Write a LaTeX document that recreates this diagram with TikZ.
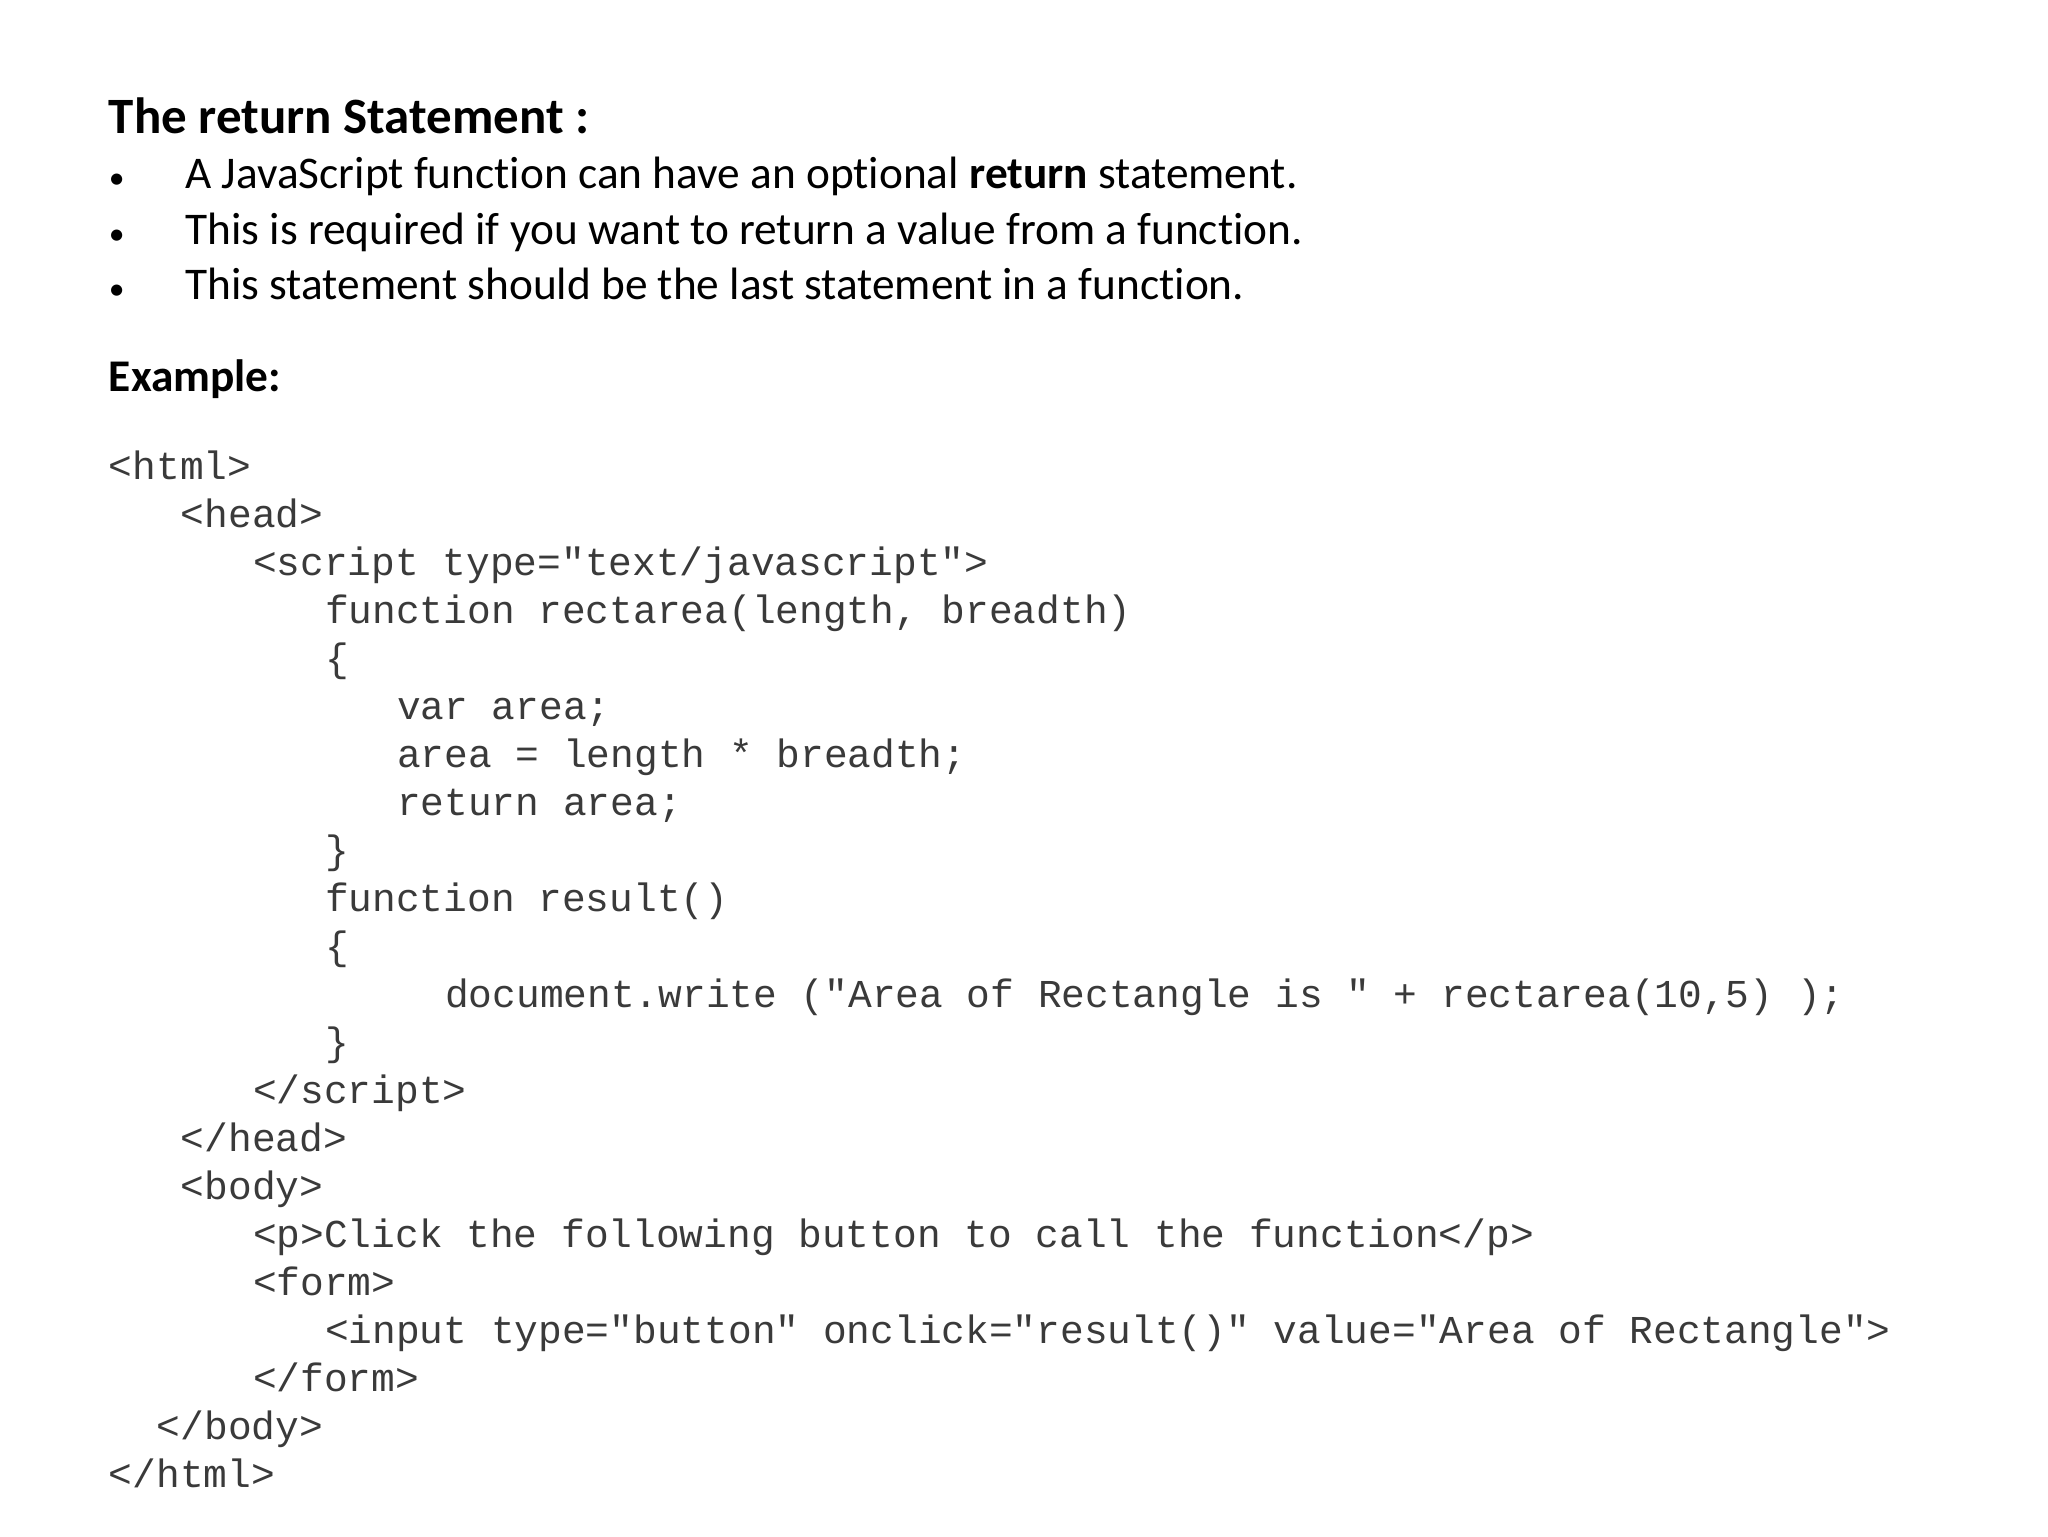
\documentclass[tikz,border=0pt]{standalone}
\usepackage{fontspec}
\setmainfont[Ligatures=NoCommon]{Carlito}
\setmonofont{Liberation Mono}
\definecolor{codegray}{HTML}{3A3A3A}
\begin{document}
\begin{tikzpicture}[x=0.013196cm,y=-0.013196cm,
  txt/.style={anchor=base west,inner sep=0pt,font=\fontsize{12.9}{16}\selectfont},
  code/.style={anchor=base west,inner sep=0pt,text=codegray,font=\fontsize{11.25}{13}\selectfont\ttfamily}]
\useasboundingbox (0,0) rectangle (1552,1164);
\node[txt,font=\fontsize{14.5}{17}\selectfont\bfseries] (t) at (82,101) {The return Statement :};
\node[txt] (b1) at (82,143) {\small•};
\node[txt] (l1) at (140,143) {A JavaScript function can have an optional \textbf{return} statement.};
\node[txt] (b2) at (82,185) {\small•};
\node[txt] (l2) at (140,185) {This is required if you want to return a value from a function.};
\node[txt] (b3) at (82,227) {\small•};
\node[txt] (l3) at (140,227) {This statement should be the last statement in a function.};
\node[txt,font=\fontsize{12.9}{16}\selectfont\bfseries] (ex) at (82,297) {Example:};
\def\cw{18.2}
\def\ls{36.4}
\foreach \ind/\s [count=\i from 0] in {
 0/{<html>},
 3/{<head>},
 6/{<script type="text/javascript">},
 9/{function rectarea(length, breadth)},
 9/{\{},
 12/{var area;},
 12/{area = length * breadth;},
 12/{return area;},
 9/{\}},
 9/{function result()},
 9/{\{},
 14/{document.write ("Area of Rectangle is " + rectarea(10,5) );},
 9/{\}},
 6/{</script>},
 3/{</head>},
 3/{<body>},
 6/{<p>Click the following button to call the function</p>},
 6/{<form>},
 9/{<input type="button" onclick="result()" value="Area of Rectangle">},
 6/{</form>},
 2/{</body>},
 0/{</html>}}
 \node[code] (c\i) at ({82+\ind*\cw},{363+\i*\ls}) {\s};
\end{tikzpicture}
\end{document}
